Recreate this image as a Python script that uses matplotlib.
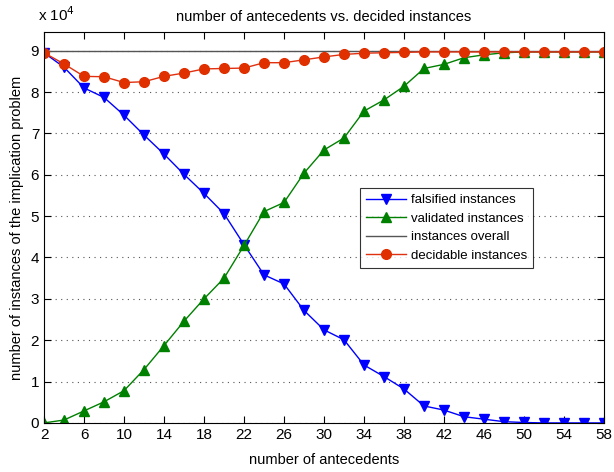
import numpy as np
import matplotlib
matplotlib.use("Agg")
import matplotlib.pyplot as plt

plt.rcParams['font.family'] = ['Liberation Sans', 'DejaVu Sans']

antecedents = list(range(2, 60, 2))
falsified = [8.95, 8.60, 8.10, 7.87, 7.44, 6.96, 6.50, 6.01, 5.55, 5.06,
             4.31, 3.58, 3.36, 2.72, 2.25, 2.01, 1.40, 1.12, 0.82, 0.41,
             0.31, 0.15, 0.09, 0.03, 0.01, 0.0, 0.0, 0.0, 0.0]
validated = [0.0, 0.07, 0.29, 0.51, 0.78, 1.29, 1.87, 2.46, 3.00, 3.50,
             4.29, 5.11, 5.33, 6.04, 6.60, 6.89, 7.54, 7.81, 8.14, 8.57,
             8.67, 8.83, 8.90, 8.95, 8.97, 8.97, 8.97, 8.97, 8.97]
overall = 8.99
decidable = [8.95, 8.68, 8.38, 8.37, 8.23, 8.25, 8.38, 8.46, 8.56, 8.57,
             8.58, 8.71, 8.71, 8.78, 8.85, 8.91, 8.94, 8.95, 8.96, 8.97,
             8.97, 8.97, 8.97, 8.97, 8.97, 8.97, 8.97, 8.97, 8.97]

fig = plt.figure(figsize=(6.14, 4.72), dpi=100)
ax = fig.add_axes([0.0717, 0.104, 0.912, 0.828])

ax.plot(antecedents, falsified, color='#0000ff', marker='v', markersize=7,
        linewidth=1, label='falsified instances')
ax.plot(antecedents, validated, color='#008000', marker='^', markersize=7,
        linewidth=1, label='validated instances')
ax.plot([antecedents[0], antecedents[-1]], [overall, overall], color='#555555',
        linewidth=1, label='instances overall')
ax.plot(antecedents, decidable, color='#e03010', marker='o', markersize=7,
        markerfacecolor='#e03000', markeredgecolor='#e03000',
        linewidth=1, label='decidable instances')

ax.set_xlim(2, 58)
ax.set_ylim(0, 9.45)
ax.set_xticks(range(2, 59, 4))
ax.set_yticks(range(0, 10))
ax.tick_params(direction='in', top=True, right=True, labelsize=11, length=5)
ax.yaxis.grid(True, linestyle=(0, (1, 4)), color='#555555', linewidth=0.8)

ax.set_title('number of antecedents vs. decided instances', fontsize=10.5, pad=8)
ax.set_xlabel('number of antecedents', fontsize=10.5, labelpad=8)
ax.set_ylabel('number of instances of the implication problem', fontsize=10.5, labelpad=5)
fig.text(0.062, 0.955, r'x 10$^4$', fontsize=11)

leg = ax.legend(loc='center', bbox_to_anchor=(0.575, 0.399, 0.2875, 0.199),
                fontsize=9.5, frameon=True, fancybox=False, edgecolor='black',
                borderpad=0.45, labelspacing=0.48, handlelength=3.0,
                handletextpad=0.4, borderaxespad=0)
leg.get_frame().set_linewidth(0.8)

fig.savefig('out.png', dpi=100)
